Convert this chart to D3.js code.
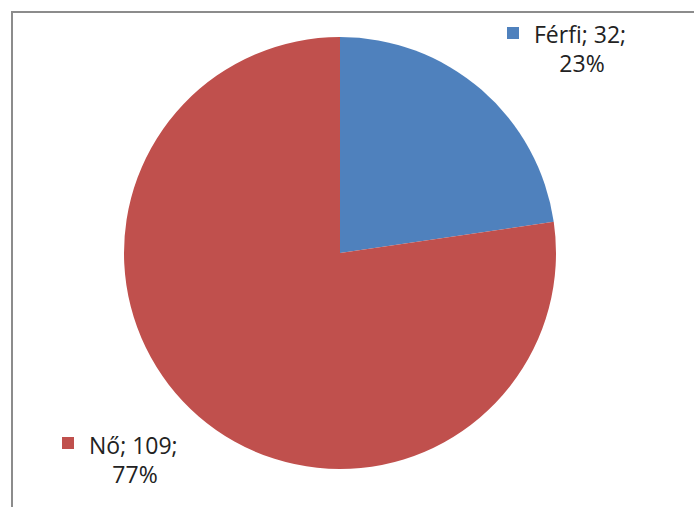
<!DOCTYPE html>
<html lang="hu">
<head>
<meta charset="UTF-8">
<title>Nemek megoszlása</title>
<style>
    body { margin: 0; padding: 0; background: #fff; }
    svg { display: block; }
    .lbl { font-family: 'Open Sans', sans-serif; font-size: 23px; fill: #222; }
</style>
</head>
<body>
<svg id="chart"></svg>
<script src="https://d3js.org/d3.v7.min.js"></script>
<script>
// Data
const categories = ['Férfi', 'Nő'];
const counts = [32, 109];
const percents = ['23%', '77%'];
const colors = ['#4F81BD', '#C0504D'];

const width = 694, height = 507;
const cx = 340, cy = 253, radius = 216;

const svg = d3.select('#chart').attr('width', width).attr('height', height);

// chart area frame (only top and left edge visible)
svg.append('path')
    .attr('d', `M12,${height} L12,12 L${width},12`)
    .attr('fill', 'none')
    .attr('stroke', '#8c8c8c')
    .attr('stroke-width', 2);

const data = categories.map((c, i) => ({ cat: c, value: counts[i], pct: percents[i], color: colors[i] }));

const pie = d3.pie().sort(null).value(d => d.value);
const arc = d3.arc().innerRadius(0).outerRadius(radius);

const g = svg.append('g').attr('transform', `translate(${cx},${cy})`);
g.selectAll('path')
    .data(pie(data))
    .enter()
    .append('path')
    .attr('d', arc)
    .attr('fill', d => d.data.color);

// labels (legend key + text), placed like the original
const labelPos = [
    { sq: [507, 27], x: 534, y: 43, x2: 582, y2: 72 },
    { sq: [62, 437], x: 89, y: 454, x2: 135, y2: 483 }
];

data.forEach((d, i) => {
    const p = labelPos[i];
    svg.append('rect')
        .attr('x', p.sq[0]).attr('y', p.sq[1])
        .attr('width', 12).attr('height', 12)
        .attr('fill', d.color);
    svg.append('text').attr('class', 'lbl')
        .attr('x', p.x).attr('y', p.y)
        .text(`${d.cat}; ${d.value};`);
    svg.append('text').attr('class', 'lbl')
        .attr('x', p.x2).attr('y', p.y2)
        .attr('text-anchor', 'middle')
        .text(d.pct);
});
</script>
</body>
</html>
